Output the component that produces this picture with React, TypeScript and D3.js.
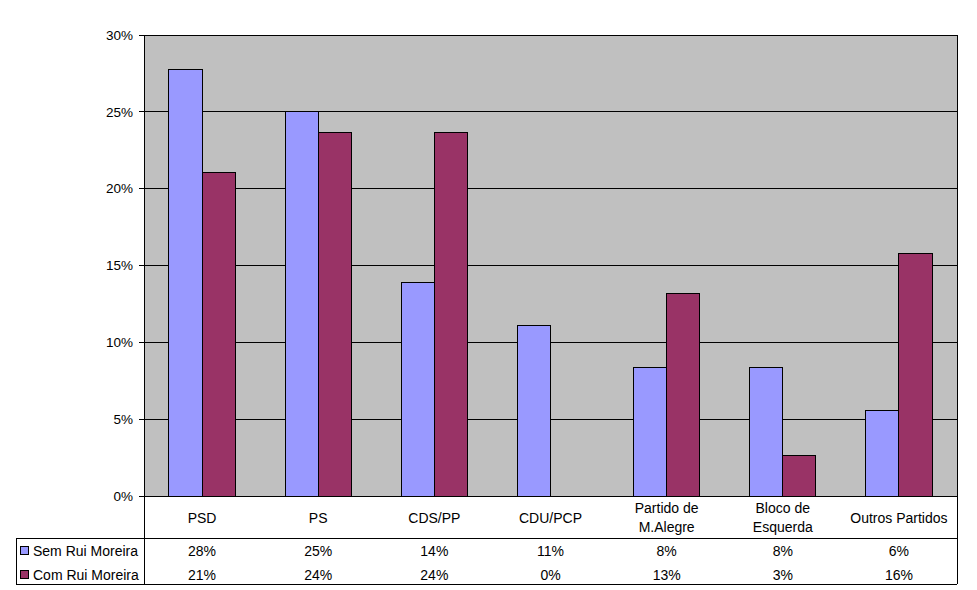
import React from "react";
import * as d3 from "d3";

const categories: string[][] = [
  ["PSD"],
  ["PS"],
  ["CDS/PP"],
  ["CDU/PCP"],
  ["Partido de", "M.Alegre"],
  ["Bloco de", "Esquerda"],
  ["Outros Partidos"],
];
const seriesNames = ["Sem Rui Moreira", "Com Rui Moreira"];
const semValues = [27.78, 25.0, 13.89, 11.11, 8.33, 8.33, 5.56];
const comValues = [21.05, 23.68, 23.68, 0, 13.16, 2.63, 15.79];
const semLabels = ["28%", "25%", "14%", "11%", "8%", "8%", "6%"];
const comLabels = ["21%", "24%", "24%", "0%", "13%", "3%", "16%"];
const yTicks = [0, 5, 10, 15, 20, 25, 30];
const colors = ["#9999FF", "#993366"];

export default function App() {
  const W = 977, H = 590;
  const left = 144, right = 957, top = 35, bottom = 496;
  const tableLeft = 16, rowLine = 538, tableBottom = 584;
  const font = "'Liberation Sans', Arial, sans-serif";
  const fs = 14;

  const x = d3.scaleBand<number>().domain(d3.range(categories.length)).range([left, right]).paddingInner(0).paddingOuter(0);
  const y = d3.scaleLinear().domain([0, 30]).range([bottom, top]);
  const bw = x.bandwidth() / 3.5;

  const series = [semValues, comValues];
  const labels = [semLabels, comLabels];
  const rowY = [551, 575];

  return (
    <svg width={W} height={H} style={{ position: "absolute", left: 0, top: 0, background: "#fff" }} fontFamily={font}>
      <rect x={left} y={top} width={right - left} height={bottom - top} fill="#C0C0C0" />
      {yTicks.map((t) => (
        <g key={t}>
          <line x1={left} x2={right} y1={y(t)} y2={y(t)} stroke="#000" strokeWidth={1} shapeRendering="crispEdges" />
          <line x1={left - 5} x2={left} y1={y(t)} y2={y(t)} stroke="#000" shapeRendering="crispEdges" />
          <text x={left - 11} y={y(t)} dy="0.35em" textAnchor="end" fontSize={13.5} fill="#000">{t}%</text>
        </g>
      ))}
      {series.map((vals, s) =>
        vals.map((v, i) =>
          v > 0 ? (
            <rect
              key={`${s}-${i}`}
              x={(x(i) as number) + x.bandwidth() / 2 - bw + s * bw}
              y={y(v)}
              width={bw}
              height={bottom - y(v)}
              fill={colors[s]}
              stroke="#000"
              strokeWidth={1}
              shapeRendering="crispEdges"
            />
          ) : null
        )
      )}
      <line x1={left} x2={left} y1={top} y2={tableBottom} stroke="#000" shapeRendering="crispEdges" />
      <line x1={right} x2={right} y1={top} y2={tableBottom} stroke="#000" shapeRendering="crispEdges" />
      <line x1={left} x2={right} y1={bottom} y2={bottom} stroke="#000" shapeRendering="crispEdges" />
      <line x1={tableLeft} x2={right} y1={rowLine} y2={rowLine} stroke="#000" shapeRendering="crispEdges" />
      <line x1={tableLeft} x2={right} y1={tableBottom} y2={tableBottom} stroke="#000" shapeRendering="crispEdges" />
      <line x1={tableLeft} x2={tableLeft} y1={rowLine} y2={tableBottom} stroke="#000" shapeRendering="crispEdges" />
      {categories.map((lines, i) => {
        const cx = (x(i) as number) + x.bandwidth() / 2;
        const startY = lines.length === 1 ? 518 : 508;
        return (
          <text key={i} textAnchor="middle" fontSize={fs} fill="#000">
            {lines.map((l, j) => (
              <tspan key={j} x={cx} y={startY + j * 19} dy="0.35em">{l}</tspan>
            ))}
          </text>
        );
      })}
      {seriesNames.map((n, s) => (
        <g key={n}>
          <rect x={20.5} y={rowY[s] - 4.5} width={8} height={8} fill={colors[s]} stroke="#000" strokeWidth={1} />
          <text x={33} y={rowY[s]} dy="0.35em" fontSize={fs} fill="#000">{n}</text>
          {labels[s].map((l, i) => (
            <text key={i} x={(x(i) as number) + x.bandwidth() / 2} y={rowY[s]} dy="0.35em" textAnchor="middle" fontSize={fs} fill="#000">{l}</text>
          ))}
        </g>
      ))}
    </svg>
  );
}
